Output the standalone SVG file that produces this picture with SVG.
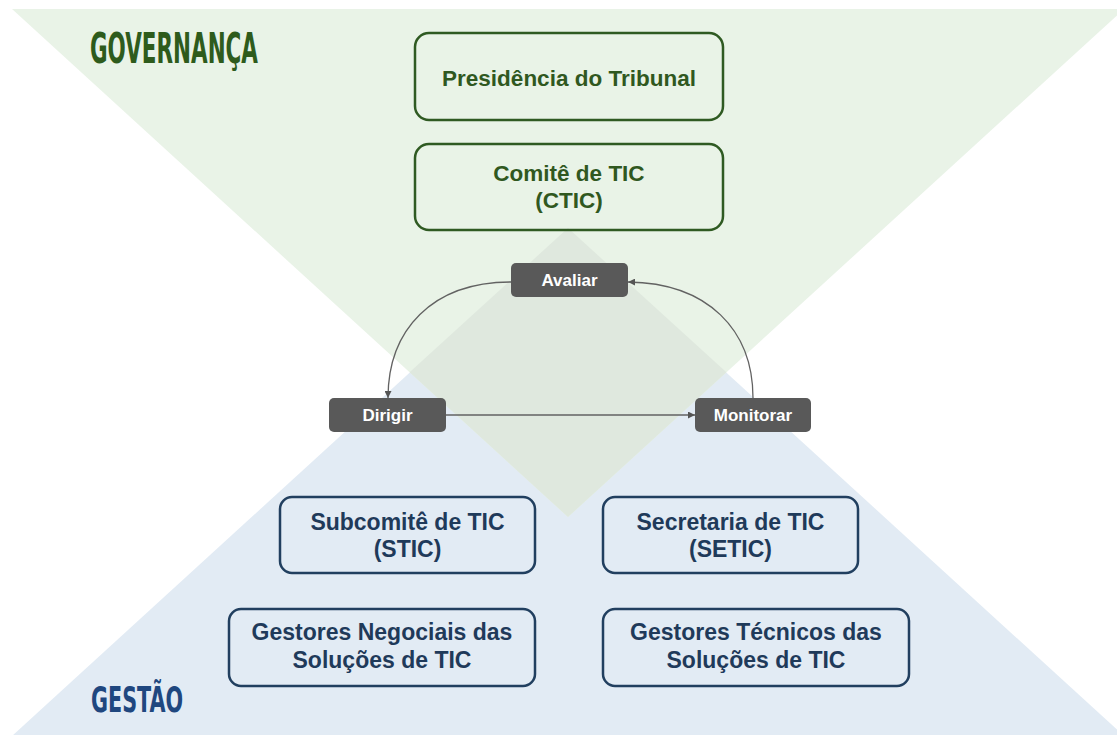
<svg xmlns="http://www.w3.org/2000/svg" width="1117" height="735" viewBox="0 0 1117 735">
  <style>
    .gbox { fill: none; stroke: #2f5a22; stroke-width: 2.5; }
    .bbox { fill: none; stroke: #213f5f; stroke-width: 2.5; }
    .gtxt { font-family: "Liberation Sans", Arial, sans-serif; font-weight: bold; font-size: 22.5px; fill: #30581f; text-anchor: middle; }
    .btxt { font-family: "Liberation Sans", Arial, sans-serif; font-weight: bold; font-size: 23px; fill: #1f3a5a; text-anchor: middle; }
    .dbox { fill: #595959; }
    .dtxt { font-family: "Liberation Sans", Arial, sans-serif; font-weight: bold; font-size: 17px; fill: #ffffff; text-anchor: middle; }
    .title { font-family: "DejaVu Sans Condensed", "DejaVu Sans", sans-serif; font-weight: bold; }
    .conn { fill: none; stroke: #626262; stroke-width: 1.3; }
  </style>
  <defs>
    <marker id="arrow" viewBox="0 0 10 10" refX="10" refY="5" markerWidth="7" markerHeight="7" markerUnits="userSpaceOnUse" orient="auto">
      <path d="M0,0 L10,5 L0,10 z" fill="#555555"/>
    </marker>
  </defs>
  <rect width="1117" height="735" fill="#ffffff"/>
  <g id="background">
    <polygon points="568,228 12,736 1124,736" fill="#e2ebf4"/>
    <polygon points="12,9 1124,9 568,517" fill="#e9f3e7"/>
    <polygon points="568,228 409.6,372.3 568,517 726.4,372.3" fill="#dfe8de"/>
  </g>
  <g id="label-governanca">
    <text class="title" x="90" y="63" font-size="43" fill="#2e5b1c" textLength="168" lengthAdjust="spacingAndGlyphs">GOVERNANÇA</text>
  </g>
  <g id="label-gestao">
    <text class="title" x="91" y="712" font-size="36" fill="#1f477f" textLength="92" lengthAdjust="spacingAndGlyphs">GESTÃO</text>
  </g>
  <g id="presidencia">
    <rect class="gbox" x="415" y="33" width="308" height="87" rx="14"/>
    <text class="gtxt" x="569" y="86">Presidência do Tribunal</text>
  </g>
  <g id="comite">
    <rect class="gbox" x="415" y="144" width="308" height="86" rx="14"/>
    <text class="gtxt" x="569" y="181">Comitê de TIC</text>
    <text class="gtxt" x="569" y="208">(CTIC)</text>
  </g>
  <g id="avaliar">
    <rect class="dbox" x="511" y="263" width="117" height="34" rx="5"/>
    <text class="dtxt" x="569.5" y="286">Avaliar</text>
  </g>
  <g id="dirigir">
    <rect class="dbox" x="329" y="398" width="117" height="34" rx="5"/>
    <text class="dtxt" x="387.5" y="421">Dirigir</text>
  </g>
  <g id="monitorar">
    <rect class="dbox" x="695" y="398" width="116" height="34" rx="5"/>
    <text class="dtxt" x="753" y="421">Monitorar</text>
  </g>
  <g id="subcomite">
    <rect class="bbox" x="280" y="497" width="255" height="76" rx="12"/>
    <text class="btxt" x="407.5" y="530">Subcomitê de TIC</text>
    <text class="btxt" x="407.5" y="557">(STIC)</text>
  </g>
  <g id="secretaria">
    <rect class="bbox" x="603" y="497" width="255" height="76" rx="12"/>
    <text class="btxt" x="730.5" y="530">Secretaria de TIC</text>
    <text class="btxt" x="730.5" y="557">(SETIC)</text>
  </g>
  <g id="gestores-negociais">
    <rect class="bbox" x="229" y="609" width="306" height="77" rx="12"/>
    <text class="btxt" x="382" y="640">Gestores Negociais das</text>
    <text class="btxt" x="382" y="668">Soluções de TIC</text>
  </g>
  <g id="gestores-tecnicos">
    <rect class="bbox" x="603" y="609" width="306" height="77" rx="12"/>
    <text class="btxt" x="756" y="640">Gestores Técnicos das</text>
    <text class="btxt" x="756" y="668">Soluções de TIC</text>
  </g>
  <g id="connectors">
    <path class="conn" d="M511,282 C432,282 388,330 388,398" marker-end="url(#arrow)"/>
    <path class="conn" d="M446,415 L695,415" marker-end="url(#arrow)"/>
    <path class="conn" d="M753,398 C753,330 708,283 628,282" marker-end="url(#arrow)"/>
  </g>
</svg>
